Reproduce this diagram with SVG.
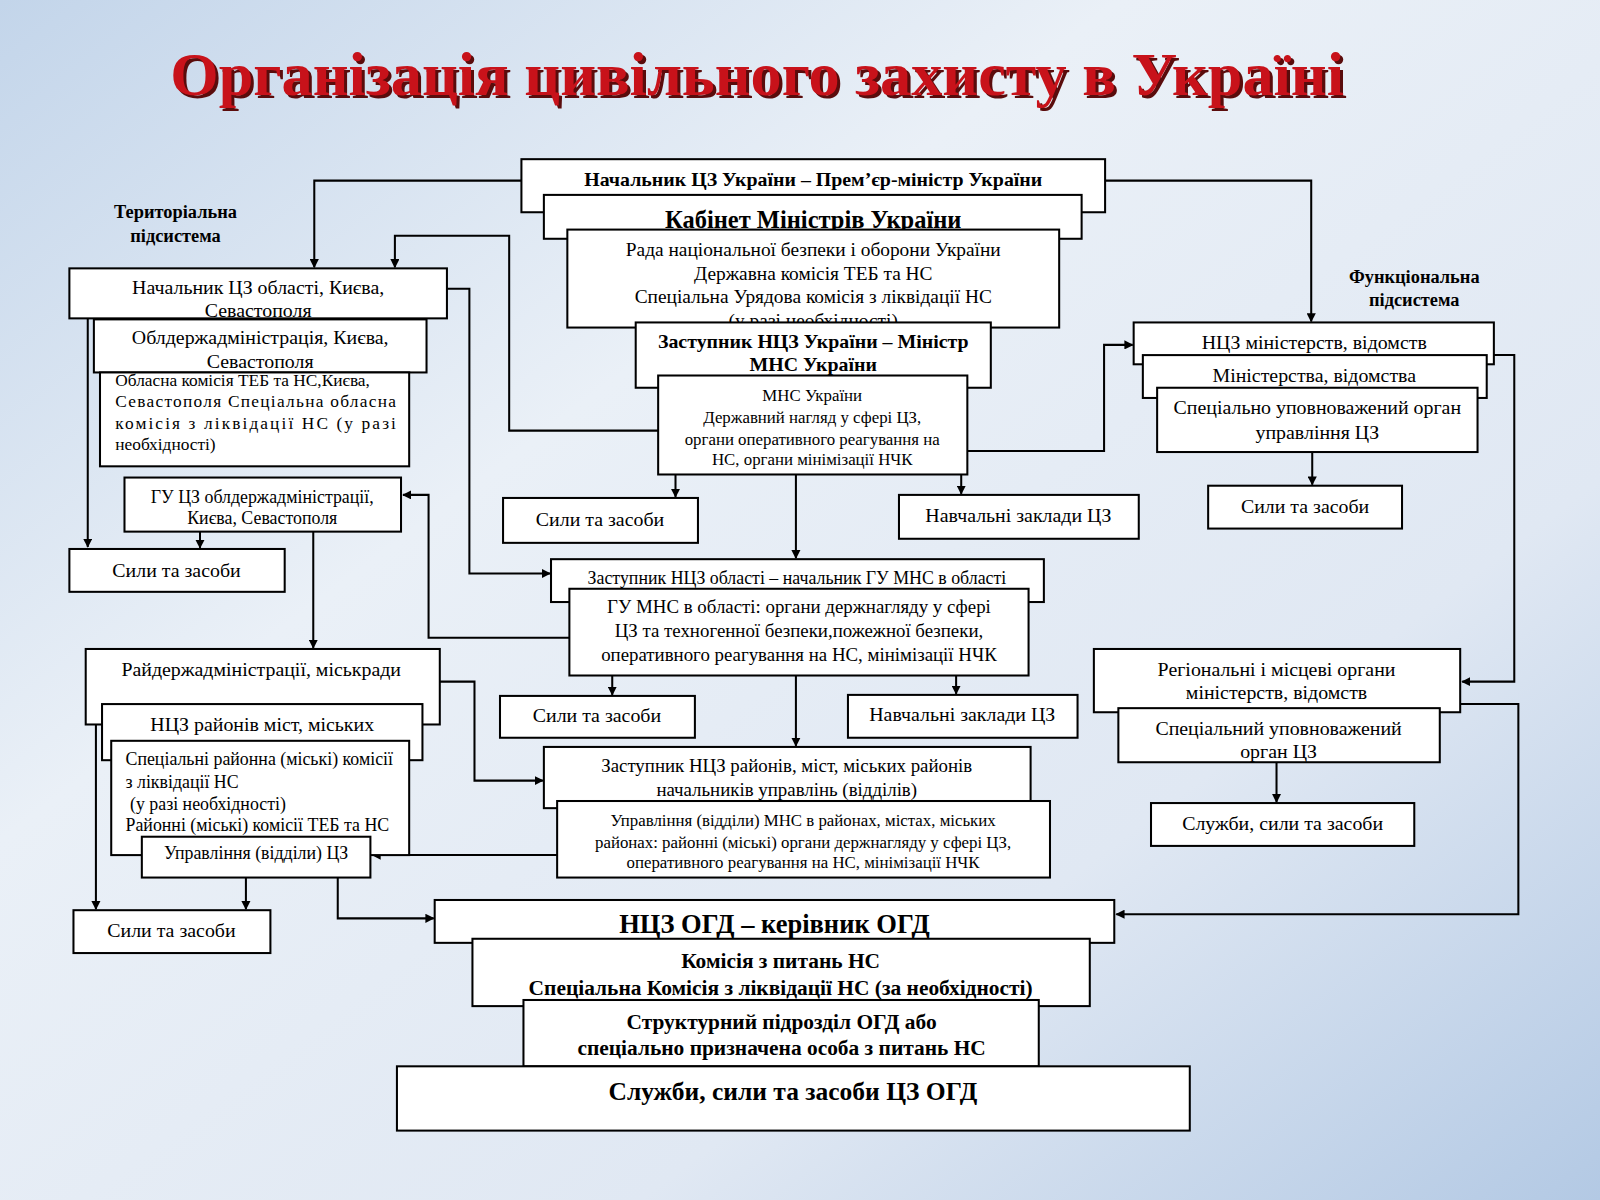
<svg xmlns="http://www.w3.org/2000/svg" width="1600" height="1200" viewBox="0 0 1600 1200">
<defs>
<linearGradient id="bg" x1="0" y1="0" x2="1" y2="1">
<stop offset="0" stop-color="#c3d5ea"/><stop offset="0.35" stop-color="#eaf0f7"/><stop offset="0.7" stop-color="#e0e8f3"/><stop offset="1" stop-color="#b3c9e4"/>
</linearGradient>
<marker id="ar" viewBox="0 0 10 10" refX="9" refY="5" markerWidth="9" markerHeight="9" orient="auto" markerUnits="userSpaceOnUse"><path d="M0,0L10,5L0,10z" fill="#000"/></marker>
<style>
.b{fill:#fff;stroke:#000;stroke-width:2}
text{font-family:"Liberation Serif","DejaVu Serif",serif;fill:#000}
.t{font-size:19.5px;text-anchor:middle}
.s{font-size:17.5px;text-anchor:middle}
.bd{font-weight:bold}
.c path{fill:none;stroke:#000;stroke-width:2;marker-end:url(#ar)}
</style>
</defs>
<rect width="1600" height="1200" fill="url(#bg)"/>
<g transform="scale(1.0204)">
<text x="742" y="93" text-anchor="middle" style="font-size:61px;font-weight:bold;fill:#5a0c0c" dx="3" dy="3">Організація цивільного захисту в Україні</text>
<text x="742" y="93" text-anchor="middle" style="font-size:61px;font-weight:bold;fill:#c8121a">Організація цивільного захисту в Україні</text>
<text x="172" y="214" class="t bd" style="font-size:18px">Територіальна</text>
<text x="172" y="237" class="t bd" style="font-size:18px">підсистема</text>
<text x="1386" y="277" class="t bd" style="font-size:18px">Функціональна</text>
<text x="1386" y="300" class="t bd" style="font-size:18px">підсистема</text>

<g class="c">
<path d="M511,177H308V262"/>
<path d="M645,422H499V231H387V262"/>
<path d="M1083,177H1285V315"/>
<path d="M438,283H460V562H539"/>
<path d="M86,312V536"/>
<path d="M196,521V537"/>
<path d="M307,521V635"/>
<path d="M558,625H420V485H395"/>
<path d="M948,442H1082V338H1110"/>
<path d="M662,465V487"/>
<path d="M942,465V484"/>
<path d="M780,465V547"/>
<path d="M600,662V681"/>
<path d="M937,662V680"/>
<path d="M780,662V731"/>
<path d="M431,668H465V765H532"/>
<path d="M546,838H365"/>
<path d="M241,860V891"/>
<path d="M331,860V900H425"/>
<path d="M94,710V891"/>
<path d="M1464,348H1484V668H1433"/>
<path d="M1431,690H1488V896H1094"/>
<path d="M1286,443V475"/>
<path d="M1251,747V786"/>
</g>

<g id="n1"><rect class="b" x="511" y="156" width="572" height="52"/><text x="797" y="182" class="t bd" style="font-size:19.5px">Начальник ЦЗ України – Прем’єр-міністр України</text></g>
<g id="n2"><rect class="b" x="533" y="191" width="527" height="43"/><text x="797" y="223" class="t bd" style="font-size:24px">Кабінет Міністрів України</text></g>
<g id="n3"><rect class="b" x="556" y="225" width="482" height="96"/><text class="t" x="797" style="font-size:19px"><tspan x="797" y="251">Рада національної безпеки і оборони України</tspan><tspan x="797" y="274">Державна комісія ТЕБ та НС</tspan><tspan x="797" y="297">Спеціальна Урядова комісія з ліквідації НС</tspan><tspan x="797" y="320">(у разі необхідності)</tspan></text></g>
<g id="n4"><rect class="b" x="623" y="316" width="348" height="64"/><text class="t bd" style="font-size:19.5px"><tspan x="797" y="341">Заступник НЦЗ України – Міністр</tspan><tspan x="797" y="364">МНС України</tspan></text></g>
<g id="n5"><rect class="b" x="645" y="368" width="303" height="97"/><text class="s" style="font-size:16.5px"><tspan x="796" y="393">МНС України</tspan><tspan x="796" y="415">Державний нагляд у сфері ЦЗ,</tspan><tspan x="796" y="436">органи оперативного реагування на</tspan><tspan x="796" y="456">НС, органи мінімізації НЧК</tspan></text></g>

<g id="n6"><rect class="b" x="68" y="263" width="370" height="49"/><text class="t"><tspan x="253" y="288">Начальник ЦЗ області, Києва,</tspan><tspan x="253" y="311">Севастополя</tspan></text></g>
<g id="n7"><rect class="b" x="92" y="313" width="326" height="52"/><text class="t"><tspan x="255" y="337">Облдержадміністрація, Києва,</tspan><tspan x="255" y="361">Севастополя</tspan></text></g>
<g id="n8"><rect class="b" x="98" y="365" width="303" height="92"/><text style="font-size:17px"><tspan x="113" y="378">Обласна комісія ТЕБ та НС,Києва,</tspan><tspan x="113" y="399" textLength="275" lengthAdjust="spacing">Севастополя Спеціальна обласна</tspan><tspan x="113" y="420" textLength="275" lengthAdjust="spacing">комісія з ліквідації НС (у разі</tspan><tspan x="113" y="441">необхідності)</tspan></text></g>
<g id="n9"><rect class="b" x="122" y="468" width="271" height="53"/><text class="s"><tspan x="257" y="493">ГУ ЦЗ облдержадміністрації,</tspan><tspan x="257" y="514">Києва, Севастополя</tspan></text></g>
<g id="n10"><rect class="b" x="68" y="538" width="211" height="42"/><text x="173" y="565" class="t">Сили та засоби</text></g>
<g id="n11"><rect class="b" x="84" y="636" width="347" height="74"/><text x="256" y="662" class="t">Райдержадміністрації, міськради</text></g>
<g id="n12"><rect class="b" x="100" y="690" width="314" height="55"/><text x="257" y="716" class="t">НЦЗ районів міст, міських</text></g>
<g id="n13"><rect class="b" x="109" y="726" width="292" height="112"/><text style="font-size:17.5px"><tspan x="123" y="750">Спеціальні районна (міські) комісії</tspan><tspan x="123" y="772">з ліквідації НС</tspan><tspan x="123" y="794"> (у разі необхідності)</tspan><tspan x="123" y="814">Районні (міські) комісії ТЕБ та НС</tspan></text></g>
<g id="n14"><rect class="b" x="139" y="820" width="224" height="40"/><text x="251" y="842" class="s">Управління (відділи) ЦЗ</text></g>
<g id="n15"><rect class="b" x="72" y="892" width="193" height="42"/><text x="168" y="918" class="t">Сили та засоби</text></g>

<g id="n16"><rect class="b" x="493" y="488" width="191" height="44"/><text x="588" y="515" class="t">Сили та засоби</text></g>
<g id="n17"><rect class="b" x="881" y="485" width="235" height="43"/><text x="998" y="512" class="t">Навчальні заклади ЦЗ</text></g>
<g id="n18"><rect class="b" x="540" y="548" width="483" height="42"/><text x="781" y="572" class="s">Заступник НЦЗ області – начальник ГУ МНС в області</text></g>
<g id="n19"><rect class="b" x="558" y="577" width="450" height="85"/><text class="t" style="font-size:18.5px"><tspan x="783" y="601">ГУ МНС в області: органи держнагляду у сфері</tspan><tspan x="783" y="624">ЦЗ та техногенної безпеки,пожежної безпеки,</tspan><tspan x="783" y="648">оперативного реагування на НС, мінімізації НЧК</tspan></text></g>
<g id="n20"><rect class="b" x="490" y="682" width="191" height="41"/><text x="585" y="708" class="t">Сили та засоби</text></g>
<g id="n21"><rect class="b" x="831" y="681" width="225" height="42"/><text x="943" y="707" class="t">Навчальні заклади ЦЗ</text></g>
<g id="n22"><rect class="b" x="533" y="732" width="477" height="60"/><text class="t" style="font-size:18.5px"><tspan x="771" y="757">Заступник НЦЗ районів, міст, міських районів</tspan><tspan x="771" y="780">начальників управлінь (відділів)</tspan></text></g>
<g id="n23"><rect class="b" x="546" y="785" width="483" height="75"/><text class="s" style="font-size:16.5px"><tspan x="787" y="809">Управління (відділи) МНС в районах, містах, міських</tspan><tspan x="787" y="831">районах: районні (міські) органи держнагляду у сфері ЦЗ,</tspan><tspan x="787" y="851">оперативного реагування на НС, мінімізації НЧК</tspan></text></g>
<g id="n24"><rect class="b" x="426" y="882" width="666" height="42"/><text x="759" y="914" class="t bd" style="font-size:26px">НЦЗ ОГД – керівник ОГД</text></g>
<g id="n25"><rect class="b" x="463" y="920" width="605" height="66"/><text class="t bd" style="font-size:21px"><tspan x="765" y="949">Комісія з питань НС</tspan><tspan x="765" y="975">Спеціальна Комісія з ліквідації НС (за необхідності)</tspan></text></g>
<g id="n26"><rect class="b" x="513" y="980" width="505" height="65"/><text class="t bd" style="font-size:21px"><tspan x="766" y="1008">Структурний підрозділ  ОГД  або</tspan><tspan x="766" y="1034">спеціально призначена особа з питань НС</tspan></text></g>
<g id="n27"><rect class="b" x="389" y="1045" width="777" height="63"/><text x="777" y="1078" class="t bd" style="font-size:25px">Служби, сили та засоби ЦЗ ОГД</text></g>

<g id="n28"><rect class="b" x="1111" y="316" width="353" height="41"/><text x="1288" y="342" class="t">НЦЗ міністерств, відомств</text></g>
<g id="n29"><rect class="b" x="1120" y="348" width="337" height="42"/><text x="1288" y="374" class="t">Міністерства, відомства</text></g>
<g id="n30"><rect class="b" x="1134" y="380" width="314" height="63"/><text class="t"><tspan x="1291" y="406">Спеціально уповноважений орган</tspan><tspan x="1291" y="430">управління ЦЗ</tspan></text></g>
<g id="n31"><rect class="b" x="1184" y="476" width="190" height="42"/><text x="1279" y="503" class="t">Сили та засоби</text></g>
<g id="n32"><rect class="b" x="1072" y="636" width="359" height="62"/><text class="t"><tspan x="1251" y="662">Регіональні і місцеві органи</tspan><tspan x="1251" y="685">міністерств, відомств</tspan></text></g>
<g id="n33"><rect class="b" x="1096" y="694" width="315" height="53"/><text class="t"><tspan x="1253" y="720">Спеціальний уповноважений</tspan><tspan x="1253" y="743">орган ЦЗ</tspan></text></g>
<g id="n34"><rect class="b" x="1128" y="787" width="258" height="42"/><text x="1257" y="813" class="t">Служби, сили та засоби</text></g>
</g>
</svg>
